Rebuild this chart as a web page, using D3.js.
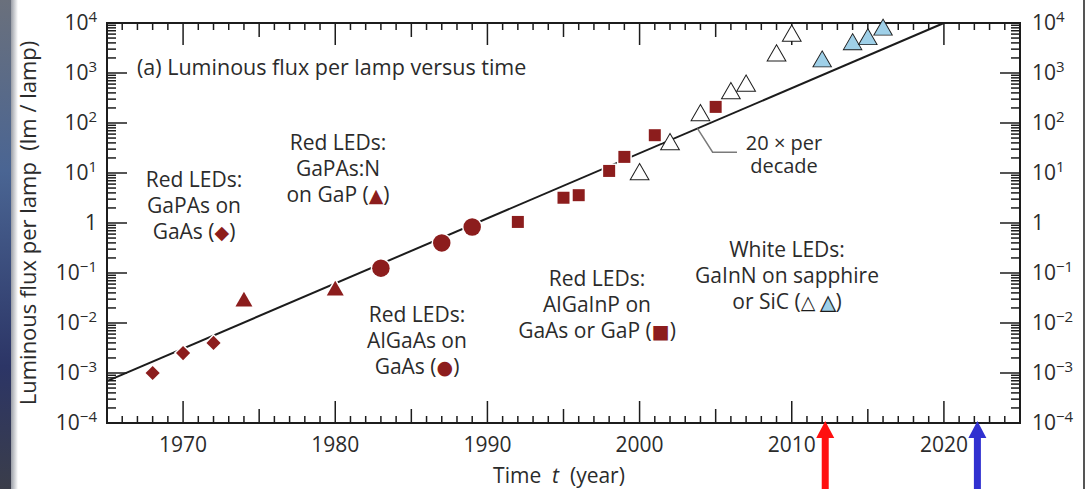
<!DOCTYPE html>
<html>
<head>
<meta charset="utf-8">
<title>Luminous flux per lamp versus time</title>
<script src="https://cdnjs.cloudflare.com/ajax/libs/d3/7.8.5/d3.min.js"></script>
<style>
  body { margin: 0; background: #fff; }
  svg text { font-family: "Open Sans", sans-serif; fill: #2b2b2b; }
</style>
</head>
<body>
<div id="chart"></div>
<script>
// values (year, lm per lamp)
var gapasYear   = [1968, 1970, 1972];
var gapasFlux   = [0.001, 0.0025, 0.004];
var gapasnYear  = [1974, 1980];
var gapasnFlux  = [0.03, 0.05];
var algaasYear  = [1983, 1987, 1989];
var algaasFlux  = [0.125, 0.4, 0.83];
var algainpYear = [1992, 1995, 1996, 1998, 1999, 2001, 2005];
var algainpFlux = [1.05, 3.2, 3.6, 11, 21, 57, 210];
var whiteYear   = [2000, 2002, 2004, 2006, 2007, 2009, 2010];
var whiteFlux   = [10.6, 42, 160, 440, 620, 2500, 6200];
var blueYear    = [2012, 2014, 2015, 2016];
var blueFlux    = [1900, 4200, 5300, 8200];
var trendYear   = [1965, 2020];
var trendFlux   = [6.9e-4, 1e4];
var arrowYear   = [2012.2, 2022.2];
var arrowColor  = ["#ff1010", "#3030d0"];

var xTickLabels = [1970, 1980, 1990, 2000, 2010, 2020];
var yTickExp    = [4, 3, 2, 1, 0, -1, -2, -3, -4];

var width = 1090,
    height = 489;

var red = "#8c1d1d",
    lightBlue = "#9fd0e8",
    ink = "#1c1c1c";

var x = d3.scaleLinear().domain([1965, 2025]).range([107, 1020]);
var y = d3.scaleLog().domain([1e-4, 1e4]).range([423, 23]);

var svg = d3.select("#chart")
            .append("svg")
            .attr("width", width)
            .attr("height", height);

// slide edge on the left and the thin frame on the right
var defs = svg.append("defs");
var edge = defs.append("linearGradient").attr("id", "edge")
               .attr("x1", 0).attr("y1", 0).attr("x2", 0).attr("y2", 1);
edge.append("stop").attr("offset", "0%").attr("stop-color", "#6a707c");
edge.append("stop").attr("offset", "35%").attr("stop-color", "#4a6593");
edge.append("stop").attr("offset", "75%").attr("stop-color", "#2c3566");
edge.append("stop").attr("offset", "100%").attr("stop-color", "#3a3d4a");
var fade = defs.append("linearGradient").attr("id", "fade");
fade.append("stop").attr("offset", "0%").attr("stop-color", "#9a9ea6");
fade.append("stop").attr("offset", "100%").attr("stop-color", "#ffffff");

svg.append("rect").attr("x", 0).attr("y", 0).attr("width", 11).attr("height", height)
   .attr("fill", "url(#edge)");
svg.append("rect").attr("x", 11).attr("y", 0).attr("width", 7).attr("height", height)
   .attr("fill", "url(#fade)");
svg.append("line").attr("x1", 1084).attr("x2", 1084).attr("y1", 0).attr("y2", height)
   .attr("stroke", ink).attr("stroke-width", 1.5);

var x0 = x.range()[0], x1 = x.range()[1],
    yb = y.range()[0], yt = y.range()[1];

// ticks, all pointing into the plot
var ticks = svg.append("g").attr("stroke", ink).attr("stroke-width", 1.5);

function xLen(t) { return t % 10 === 0 ? 22 : (t % 5 === 0 ? 14 : 7); }
var years = x.ticks(60);

ticks.selectAll(".xb").data(years).enter().append("line")
     .attr("x1", d => x(d)).attr("x2", d => x(d))
     .attr("y1", yb).attr("y2", d => yb - xLen(d));
ticks.selectAll(".xt").data(years).enter().append("line")
     .attr("x1", d => x(d)).attr("x2", d => x(d))
     .attr("y1", yt).attr("y2", d => yt + xLen(d));

function yLen(v) {
  var m = Math.round(v / Math.pow(10, Math.floor(Math.log10(v) + 1e-9)));
  return m === 1 ? 20 : 9;
}
var yt2 = y.ticks();

ticks.selectAll(".yl").data(yt2).enter().append("line")
     .attr("y1", d => y(d)).attr("y2", d => y(d))
     .attr("x1", x0).attr("x2", d => x0 + yLen(d));
ticks.selectAll(".yr").data(yt2).enter().append("line")
     .attr("y1", d => y(d)).attr("y2", d => y(d))
     .attr("x1", x1).attr("x2", d => x1 - yLen(d));

svg.append("rect")
   .attr("x", x0).attr("y", yt)
   .attr("width", x1 - x0).attr("height", yb - yt)
   .attr("fill", "none").attr("stroke", ink).attr("stroke-width", 2);

// tick labels
svg.selectAll(".xlab").data(xTickLabels).enter().append("text")
   .attr("x", d => x(d)).attr("y", 452)
   .attr("text-anchor", "middle")
   .style("font-size", "21px")
   .text(d => d);

function yLabel(sel, anchor, xpos) {
  var t = sel.enter().append("text")
             .attr("x", xpos)
             .attr("y", d => y(Math.pow(10, d)) + 7)
             .attr("text-anchor", anchor)
             .style("font-size", "21px");
  t.append("tspan").text(d => d === 0 ? "1" : "10");
  t.filter(d => d !== 0).append("tspan")
   .attr("dy", -8)
   .style("font-size", "15px")
   .text(d => d === 1 ? "1" : String(d).replace("-", "\u2212"));
}
yLabel(svg.selectAll(".ylabL").data(yTickExp), "end", 97);
yLabel(svg.selectAll(".ylabR").data(yTickExp), "start", 1032);

// axis titles
var xt = svg.append("text").attr("x", 559).attr("y", 483)
            .attr("text-anchor", "middle").style("font-size", "21px")
            .style("white-space", "pre");
xt.append("tspan").text("Time  ");
xt.append("tspan").style("font-style", "italic").text("t");
xt.append("tspan").text("  (year)");

svg.append("text")
   .attr("transform", "translate(36,223) rotate(-90)")
   .attr("text-anchor", "middle")
   .style("font-size", "22px")
   .style("white-space", "pre")
   .text("Luminous flux per lamp  (lm / lamp)");

svg.append("text").attr("x", 137).attr("y", 75)
   .style("font-size", "21.5px")
   .text("(a) Luminous flux per lamp versus time");

// trend line, 20x per decade
var line = d3.line().x(d => x(d[0])).y(d => y(d[1]));
svg.append("path")
   .attr("d", line(d3.zip(trendYear, trendFlux)))
   .attr("fill", "none").attr("stroke", ink).attr("stroke-width", 2);

// leader for the slope note
var lead = [[2003.8, 78], [2004.8, 26], [2006.4, 26]];
svg.append("path")
   .attr("d", line(lead))
   .attr("fill", "none").attr("stroke", "#7a7a7a").attr("stroke-width", 1.5);

svg.append("text").attr("x", 784).attr("y", 150).attr("text-anchor", "middle")
   .style("font-size", "20px").text("20 \u00d7 per");
svg.append("text").attr("x", 784).attr("y", 173).attr("text-anchor", "middle")
   .style("font-size", "20px").text("decade");

// markers
function plot(years, flux, type, size, fill, stroke, sw, dy, rot) {
  svg.append("g").selectAll("path")
     .data(d3.zip(years, flux)).enter().append("path")
     .attr("transform", d => "translate(" + x(d[0]) + "," + (y(d[1]) + dy) + ") rotate(" + rot + ")")
     .attr("d", d3.symbol().type(type).size(size))
     .attr("fill", fill)
     .attr("stroke", stroke)
     .attr("stroke-width", sw)
     .style("paint-order", "stroke");
}
plot(gapasYear, gapasFlux, d3.symbolSquare, 100, red, "#fff", 3, 0, 45);
plot(gapasnYear, gapasnFlux, d3.symbolTriangle, 125, red, "#fff", 3, 2.5, 0);
plot(algaasYear, algaasFlux, d3.symbolCircle, 240, red, "#fff", 3, 0, 0);
plot(algainpYear, algainpFlux, d3.symbolSquare, 144, red, "#fff", 3, 0, 0);
plot(whiteYear, whiteFlux, d3.symbolTriangle, 125, "#fff", ink, 2, 2.5, 0);
plot(blueYear, blueFlux, d3.symbolTriangle, 125, lightBlue, ink, 1.8, 2.5, 0);

// notes
var notes = [
  {cx: 194, y: 187, lines: [["Red LEDs:"], ["GaPAs on"], ["GaAs (", "\u25c6", ")"]]},
  {cx: 338, y: 150, lines: [["Red LEDs:"], ["GaPAs:N"], ["on GaP (", "\u25b2", ")"]]},
  {cx: 417, y: 322, lines: [["Red LEDs:"], ["AlGaAs on"], ["GaAs (", "\u25cf", ")"]]},
  {cx: 597, y: 286, lines: [["Red LEDs:"], ["AlGaInP on"], ["GaAs or GaP (", "\u25a0", ")"]]},
  {cx: 787, y: 257, lines: [["White LEDs:"], ["GaInN on sapphire"], ["or SiC (", "\u25b3", " ", "\u25b2", ")"]]}
];
notes.forEach(function(n) {
  n.lines.forEach(function(parts, i) {
    var t = svg.append("text")
               .attr("x", n.cx).attr("y", n.y + i * 26)
               .attr("text-anchor", "middle")
               .style("font-size", "21px")
               .style("white-space", "pre");
    parts.forEach(function(p, j) {
      var s = t.append("tspan").text(p);
      if (j > 0 && j < parts.length - 1 && p !== " ") {
        s.style("font-family", "DejaVu Sans").style("font-size", "19px");
        if (n.cx === 787) {
          s.style("fill", j === 1 ? ink : lightBlue);
          if (j === 3) s.style("stroke", ink).style("stroke-width", 1.2);
        } else {
          s.style("fill", red);
        }
      }
    });
  });
});

// arrows under the time axis
var arrow = d3.line();
svg.selectAll(".arrow").data(d3.zip(arrowYear, arrowColor)).enter().append("path")
   .attr("d", function(d) {
     var cx = x(d[0]), tip = yb - 2;
     return arrow([[cx, tip], [cx + 9, tip + 17], [cx + 3.5, tip + 17], [cx + 3.5, height],
                   [cx - 3.5, height], [cx - 3.5, tip + 17], [cx - 9, tip + 17]]) + "Z";
   })
   .attr("fill", d => d[1]);
</script>
</body>
</html>
